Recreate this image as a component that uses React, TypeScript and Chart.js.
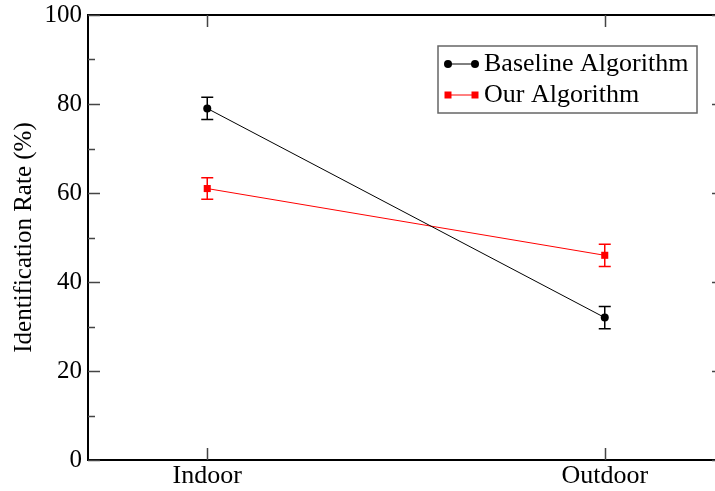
import React, { useEffect, useRef } from "react";
import { Chart, registerables } from "chart.js";

Chart.register(...registerables);

// Data
const categories = ["Indoor", "Outdoor"];
const baselineLabel = "Baseline Algorithm";
const baselineValues = [79, 32];
const baselineErrors = [2.5, 2.5];
const ourLabel = "Our Algorithm";
const ourValues = [61, 46];
const ourErrors = [2.4, 2.5];
const yMajorTicks = [0, 20, 40, 60, 80, 100];
const yMinorTicks = [10, 30, 50, 70, 90];

const SERIF = "'Liberation Serif', 'DejaVu Serif', serif";

type Series = { color: string; errors: number[]; style: "circle" | "rect" };
const seriesStyles: Series[] = [
  { color: "#000000", errors: baselineErrors, style: "circle" },
  { color: "#ff0000", errors: ourErrors, style: "rect" },
];

const frameAndErrorPlugin = {
  id: "frameAndError",
  beforeDatasetsDraw(chart: any) {
    const ctx = chart.ctx;
    const x = chart.scales.x;
    const y = chart.scales.y;
    ctx.save();
    chart.data.datasets.forEach((ds: any, i: number) => {
      const s = seriesStyles[i];
      ctx.strokeStyle = s.color;
      ctx.lineWidth = 1.5;
      ds.data.forEach((p: any, j: number) => {
        const px = x.getPixelForValue(p.x);
        const top = y.getPixelForValue(p.y + s.errors[j]);
        const bot = y.getPixelForValue(p.y - s.errors[j]);
        ctx.beginPath();
        ctx.moveTo(px, top);
        ctx.lineTo(px, bot);
        ctx.moveTo(px - 6, top);
        ctx.lineTo(px + 6, top);
        ctx.moveTo(px - 6, bot);
        ctx.lineTo(px + 6, bot);
        ctx.stroke();
      });
    });
    ctx.restore();
  },
  afterDraw(chart: any) {
    const ctx = chart.ctx;
    const a = chart.chartArea;
    const x = chart.scales.x;
    const y = chart.scales.y;
    ctx.save();
    // top and right frame
    ctx.strokeStyle = "#000";
    ctx.lineWidth = 2;
    ctx.beginPath();
    ctx.moveTo(a.left, a.top);
    ctx.lineTo(a.right, a.top);
    ctx.lineTo(a.right, a.bottom);
    ctx.stroke();

    // inward ticks on all four sides
    ctx.strokeStyle = "#444";
    ctx.lineWidth = 1.5;
    ctx.beginPath();
    const yTick = (v: number, len: number) => {
      const py = Math.round(y.getPixelForValue(v)) + 0.5;
      ctx.moveTo(a.left, py);
      ctx.lineTo(a.left + len, py);
      ctx.moveTo(a.right, py);
      ctx.lineTo(a.right - len, py);
    };
    yMajorTicks.forEach((v) => yTick(v, 12));
    yMinorTicks.forEach((v) => yTick(v, 7));
    categories.forEach((_, i) => {
      const px = Math.round(x.getPixelForValue(i)) + 0.5;
      ctx.moveTo(px, a.bottom);
      ctx.lineTo(px, a.bottom - 12);
      ctx.moveTo(px, a.top);
      ctx.lineTo(px, a.top + 12);
    });
    ctx.stroke();

    // legend
    const bx = 438;
    const by = 46;
    const bw = 259;
    const bh = 67;
    ctx.fillStyle = "#fff";
    ctx.fillRect(bx, by, bw, bh);
    ctx.strokeStyle = "#666";
    ctx.lineWidth = 1.5;
    ctx.strokeRect(bx, by, bw, bh);
    const names = chart.data.datasets.map((d: any) => d.label);
    names.forEach((name: string, i: number) => {
      const s = seriesStyles[i];
      const cy = by + 18 + i * 31;
      const x0 = bx + 10;
      const x1 = bx + 37;
      ctx.strokeStyle = s.color;
      ctx.lineWidth = 1;
      ctx.beginPath();
      ctx.moveTo(x0, cy);
      ctx.lineTo(x1, cy);
      ctx.stroke();
      ctx.fillStyle = s.color;
      [x0, x1].forEach((mx) => {
        ctx.beginPath();
        if (s.style === "circle") {
          ctx.arc(mx, cy, 4, 0, Math.PI * 2);
        } else {
          ctx.rect(mx - 3.5, cy - 3.5, 7, 7);
        }
        ctx.fill();
      });
      ctx.fillStyle = "#000";
      ctx.font = `26px ${SERIF}`;
      ctx.textBaseline = "middle";
      ctx.textAlign = "left";
      ctx.fillText(name, bx + 46, cy);
    });
    ctx.restore();
  },
};

export default function App() {
  const canvasRef = useRef<HTMLCanvasElement | null>(null);

  useEffect(() => {
    if (!canvasRef.current) return;
    const chart = new Chart(canvasRef.current, {
      type: "line",
      data: {
        datasets: [
          {
            label: baselineLabel,
            data: baselineValues.map((v, i) => ({ x: i, y: v })),
            borderColor: "#000000",
            backgroundColor: "#000000",
            borderWidth: 1,
            pointStyle: "circle",
            pointRadius: 4,
            pointBorderWidth: 0,
          },
          {
            label: ourLabel,
            data: ourValues.map((v, i) => ({ x: i, y: v })),
            borderColor: "#ff0000",
            backgroundColor: "#ff0000",
            borderWidth: 1,
            pointStyle: "rect",
            pointRadius: 5,
            pointBorderWidth: 0,
          },
        ],
      },
      options: {
        animation: false,
        responsive: false,
        layout: { padding: { left: 0, top: 15, right: 16, bottom: 0 } },
        plugins: { legend: { display: false }, tooltip: { enabled: false } },
        scales: {
          x: {
            type: "linear",
            min: -0.3,
            max: 1.3,
            afterBuildTicks: (scale: any) => {
              scale.ticks = categories.map((_, i) => ({ value: i }));
            },
            afterFit: (scale: any) => {
              scale.height = 31;
              scale.paddingLeft = 0;
              scale.paddingRight = 0;
            },
            grid: { display: false, drawTicks: false },
            border: { display: true, color: "#000", width: 2 },
            ticks: {
              color: "#000",
              font: { family: SERIF, size: 26 },
              padding: 1,
              maxRotation: 0,
              callback: (v: any) => categories[v] ?? "",
            },
          },
          y: {
            min: 0,
            max: 100,
            afterBuildTicks: (scale: any) => {
              scale.ticks = yMajorTicks.map((v) => ({ value: v }));
            },
            afterFit: (scale: any) => {
              scale.width = 88;
              scale.paddingTop = 0;
              scale.paddingBottom = 0;
            },
            grid: { display: false, drawTicks: false },
            border: { display: true, color: "#000", width: 2 },
            ticks: {
              color: "#000",
              font: { family: SERIF, size: 25 },
              padding: 6,
            },
            title: {
              display: true,
              text: "Identification Rate (%)",
              color: "#000",
              font: { family: SERIF, size: 25 },
              padding: { top: 9, bottom: 0 },
            },
          },
        },
      },
      plugins: [frameAndErrorPlugin],
    });
    return () => chart.destroy();
  }, []);

  return (
    <div
      style={{
        position: "fixed",
        left: 0,
        top: 0,
        width: 715,
        height: 491,
        overflow: "hidden",
        background: "#fff",
      }}
    >
      <canvas ref={canvasRef} width={740} height={491} style={{ display: "block" }} />
    </div>
  );
}
